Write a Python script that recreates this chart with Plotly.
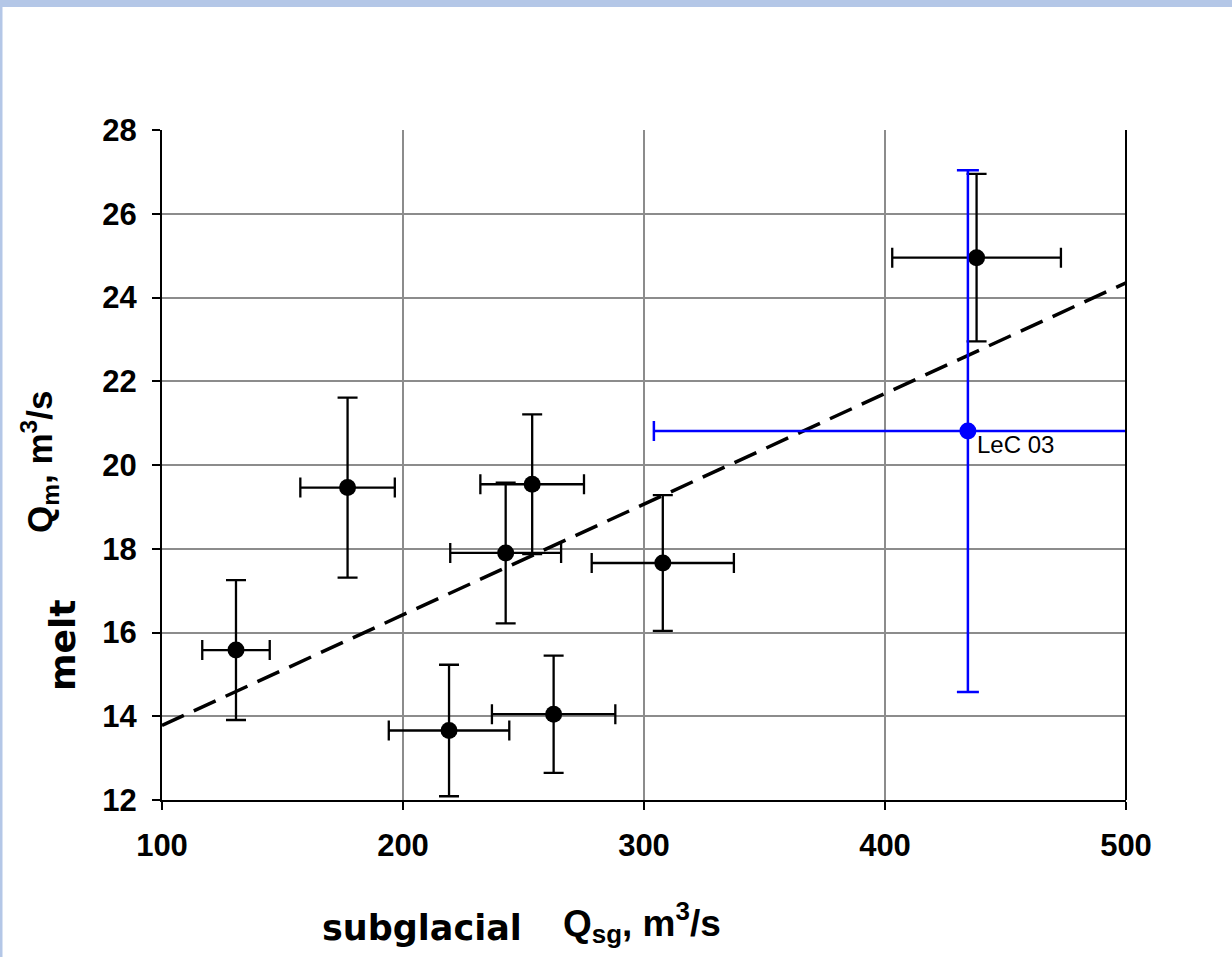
import plotly.graph_objects as go

# ---- data ----
qsg = [130.7, 177.0, 219.1, 242.6, 253.6, 262.5, 307.8, 438.0]
qm = [15.58, 19.46, 13.66, 17.90, 19.54, 14.05, 17.66, 24.95]
qsg_err = [14.0, 19.6, 25.0, 23.0, 21.5, 25.6, 29.5, 35.0]
qm_err = [1.67, 2.15, 1.57, 1.68, 1.67, 1.40, 1.62, 2.00]

lec_x = [434.4]
lec_y = [20.81]
lec_xerr = [130.3]
lec_yerr = [6.23]
lec_label = "LeC 03"

trend_x = [100, 500]
trend_y = [13.78, 24.35]

x_ticks = [100, 200, 300, 400, 500]
y_ticks = [12, 14, 16, 18, 20, 22, 24, 26, 28]

# ---- layout geometry (pixels) ----
W, H = 1232, 957
L, R, T, B = 162, 106, 130, 157
PW, PH = W - L - R, H - T - B


def px(xp):
    return (xp - L) / PW


def py(yp):
    return (H - B - yp) / PH


ARIAL = "Liberation Sans, Arial, sans-serif"
WIDE = "DejaVu Sans, sans-serif"
FRAME = "#B4C7E7"

fig = go.Figure()

fig.add_trace(go.Scatter(
    x=trend_x, y=trend_y, mode="lines",
    line=dict(color="black", width=3.5, dash="24px,11px"),
    hoverinfo="skip", showlegend=False,
))

fig.add_trace(go.Scatter(
    x=qsg, y=qm, mode="markers",
    marker=dict(color="black", size=17),
    error_x=dict(type="data", array=qsg_err, color="black", thickness=2.3, width=10),
    error_y=dict(type="data", array=qm_err, color="black", thickness=2.3, width=10),
    showlegend=False,
))

fig.add_trace(go.Scatter(
    x=lec_x, y=lec_y, mode="markers",
    marker=dict(color="#0000FF", size=17),
    error_x=dict(type="data", array=lec_xerr, color="#0000FF", thickness=2.5, width=10),
    error_y=dict(type="data", array=lec_yerr, color="#0000FF", thickness=2.5, width=11),
    showlegend=False,
))

fig.add_annotation(
    x=lec_x[0], y=lec_y[0], xref="x", yref="y", text=lec_label,
    showarrow=False, xanchor="left", yanchor="middle", xshift=7, yshift=-13,
    font=dict(family=ARIAL, size=24, color="black"),
)

# axis titles
fig.add_annotation(
    x=px(421.5), y=py(928), xref="paper", yref="paper", text="<b>subglacial</b>",
    showarrow=False, xanchor="center", yanchor="middle",
    font=dict(family=WIDE, size=35, color="black"),
)
fig.add_annotation(
    x=px(642), y=py(922), xref="paper", yref="paper",
    text="<b>Q<sub>sg</sub>, m<sup>3</sup>/s</b>",
    showarrow=False, xanchor="center", yanchor="middle",
    font=dict(family=ARIAL, size=37, color="black"),
)
fig.add_annotation(
    x=px(62), y=py(646), xref="paper", yref="paper", text="<b>melt</b>",
    showarrow=False, xanchor="center", yanchor="middle", textangle=-90,
    font=dict(family=WIDE, size=36, color="black"),
)
fig.add_annotation(
    x=px(39), y=py(462), xref="paper", yref="paper",
    text="<b>Q<sub>m</sub>, m<sup>3</sup>/s</b>",
    showarrow=False, xanchor="center", yanchor="middle", textangle=-90,
    font=dict(family=ARIAL, size=35, color="black"),
)

# right border of plot area
fig.add_shape(type="line", xref="paper", yref="paper", x0=1, x1=1, y0=0, y1=1,
              line=dict(color="black", width=2))
# light blue slide frame
fig.add_shape(type="rect", xref="paper", yref="paper",
              x0=px(0), x1=px(W), y0=py(7), y1=py(0),
              line=dict(width=0), fillcolor=FRAME)
fig.add_shape(type="rect", xref="paper", yref="paper",
              x0=px(0), x1=px(2.5), y0=py(H), y1=py(0),
              line=dict(width=0), fillcolor=FRAME)

tickfont = dict(family=ARIAL, size=31, color="black", weight="bold")
fig.update_xaxes(
    range=[100, 500], tickvals=x_ticks, ticktext=[str(v) for v in x_ticks],
    showgrid=True, gridcolor="#8C8C8C", gridwidth=2,
    showline=True, linecolor="black", linewidth=2,
    ticks="outside", ticklen=8, tickwidth=2, tickcolor="black",
    tickfont=tickfont, zeroline=False, ticklabelstandoff=9,
)
fig.update_yaxes(
    range=[12, 28], tickvals=y_ticks, ticktext=[str(v) for v in y_ticks],
    showgrid=True, gridcolor="#8C8C8C", gridwidth=2,
    showline=True, linecolor="black", linewidth=2,
    ticks="outside", ticklen=8, tickwidth=2, tickcolor="black",
    tickfont=tickfont, zeroline=False, ticklabelstandoff=9,
)

fig.update_layout(
    width=W, height=H, autosize=False,
    margin=dict(l=L, r=R, t=T, b=B, autoexpand=False),
    paper_bgcolor="white", plot_bgcolor="white",
    showlegend=False,
)

fig.write_html("out.html",
               config={"displayModeBar": False},
               post_script="document.body.style.margin='0';document.body.style.overflow='hidden';")
